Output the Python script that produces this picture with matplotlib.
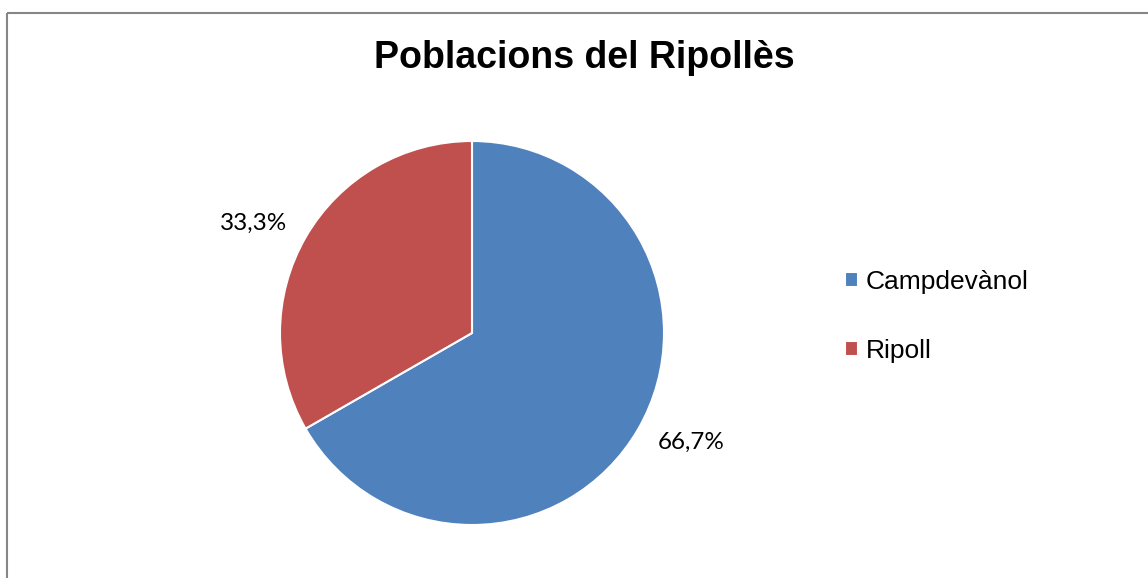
import matplotlib
matplotlib.use("Agg")
import matplotlib.pyplot as plt
import numpy as np

# Data
categories = ["Campdevànol", "Ripoll"]
values = [66.7, 33.3]
colors = ["#4F81BD", "#C0504D"]
title = "Poblacions del Ripollès"

W, H = 1148, 578
fig = plt.figure(figsize=(W / 100, H / 100), dpi=100)
ax = fig.add_axes([0, 0, 1, 1])

cx, cy, r = 472, H - 333, 192
wedges, texts, autotexts = ax.pie(
    values,
    colors=colors,
    startangle=90,
    counterclock=False,
    center=(cx, cy),
    radius=r,
    autopct=lambda p: f"{p:.1f}%".replace(".", ","),
    pctdistance=1.28,
    wedgeprops=dict(edgecolor="white", linewidth=1.5),
    textprops=dict(fontsize=17.5, family="Lato", color="#000000"),
)

# nudge labels slightly (Excel best-fit look)
for w, t in zip(wedges, autotexts):
    mid = np.deg2rad((w.theta1 + w.theta2) / 2 + 3.4)
    d = 1.275 * r
    t.set_position((cx + d * np.cos(mid), cy + d * np.sin(mid)))

ax.set_xlim(0, W)
ax.set_ylim(0, H)
ax.set_aspect("equal")
ax.axis("off")

# Border (top and left visible)
ax.plot([7, 7], [0, H - 13], color="#868686", lw=1.5, solid_capstyle="butt")
ax.plot([7, W], [H - 13, H - 13], color="#868686", lw=1.5, solid_capstyle="butt")

ax.text(584, H - 58, title, ha="center", va="center", fontsize=27,
        fontweight="bold", family="Liberation Sans")

leg = ax.legend(
    wedges, categories,
    loc="upper left",
    bbox_to_anchor=(845, H - 270),
    bbox_transform=ax.transData,
    frameon=False,
    borderpad=0, borderaxespad=0,
    handlelength=0.5, handleheight=0.5,
    handletextpad=0.28,
    labelspacing=1.7,
    prop=dict(family="Liberation Sans", size=19),
)

fig.savefig("out.png", dpi=100)
